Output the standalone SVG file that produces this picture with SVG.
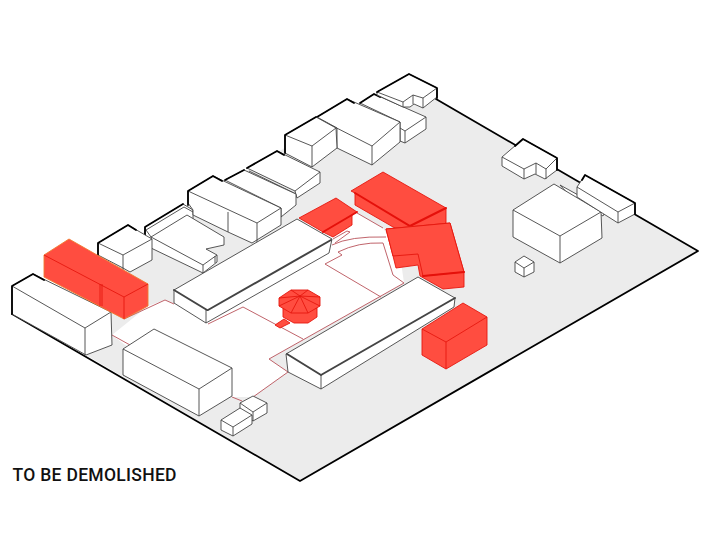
<svg xmlns="http://www.w3.org/2000/svg" width="711" height="539" viewBox="0 0 711 539">
<style>
.w{fill:#fff;stroke:#444;stroke-width:.9;stroke-linejoin:round}
.l{fill:none;stroke:#444;stroke-width:.9;stroke-linejoin:round}
.k{fill:none;stroke:#000;stroke-width:1.8;stroke-linejoin:round;stroke-linecap:round}
.d{fill:none;stroke:#444;stroke-width:2;stroke-linecap:round}
.r{fill:#ff4d40;stroke:#e5170f;stroke-width:.9;stroke-linejoin:round}
.rl{fill:none;stroke:#e5170f;stroke-width:.9;stroke-linejoin:round}
.rk{fill:none;stroke:#e5100a;stroke-width:2;stroke-linecap:round}
.p{fill:none;stroke:#b9525a;stroke-width:.9;stroke-linejoin:round}
text{font-family:"Roboto","Liberation Sans",sans-serif;font-weight:500;font-size:17.5px;fill:#111}
</style>
<g id="ground">
<polygon points="86,355 300,481 698,251 436,99 360,103 130,240 100,290" fill="#ececec"/>
<polygon points="112,335 148,306 165,300 174,304 300,225 357,213 383,228 400,255 404,283 269,359 288,372 253,397 232,397 125,345" fill="#fff"/>
<path class="k" d="M12,314 300,481 698,251 436,99"/>
</g>
<g id="connectors">
<path class="p" d="M124,319 165,300 174,304"/>
<path class="p" d="M112,335 130,345"/>
<path class="p" d="M208,324 243,307 303,339"/>
<path class="p" d="M288,372 269,359 404,283"/>
<path class="p" d="M288,372 253,397"/>
<path class="p" d="M232,397 242,401"/>
<path class="p" d="M381,297 325,264 342,255 338,252 Q358,242 383,243 L393,275 404,283"/>
<path class="p" d="M332,245 Q350,236 386,237"/>
<path class="p" d="M333,239 347,231 350,232 335,243"/>
<path class="p" d="M357,213 383,228"/>
</g>
<g id="bldg-b">
<polygon class="w" points="360,103 374,94 426,117 426,129 405,143 400,141 400,122"/>
<path class="l" d="M405,131 426,117M405,131V143M400,128 405,131"/>
<path class="k" d="M360,103 374,94 380,97"/>
</g>
<g id="bldg-top">
<polygon class="w" points="437,88 437,97 423,108 414,104 410,107 403,107 377,95 377,92 409,74"/>
<path class="l" d="M377,92 403,102 413,95 423,98 437,88M423,98V108M403,102V107M413,95V104"/>
<path class="k" d="M377,92 409,74 437,88 437,98"/>
</g>
<g id="bldg-c">
<polygon class="w" points="317,117 347,99 400,122 400,142 372,165 337,148 337,128"/>
<path class="l" d="M319,119 372,146 400,122M372,146V165"/>
<path class="k" d="M317,117 347,99 354,103"/>
</g>
<g id="bldg-d">
<polygon class="w" points="285,135 316,117 336,128 337,148 312,167 285,153"/>
<path class="l" d="M285,135 312,146 336,128M312,146V167"/>
<path class="k" d="M285,153 285,135 316,117"/>
</g>
<g id="bldg-e">
<polygon class="w" points="247,168 277,151 320,172 320,183 297,198 295,191"/>
<path class="l" d="M295,191 320,172M249,171 296,194"/>
<path class="k" d="M247,168 277,151 284,155"/>
</g>
<g id="bldg-f">
<polygon class="w" points="225,180 244,170 296,194 296,205 281,217 281,208"/>
<path class="k" d="M225,180 244,170"/>
</g>
<g id="bldg-h-back">
<polygon class="w" points="145,235 145,227 183,204 193,210 193,219 151,245"/>
<path class="l" d="M146,230 184,207 193,212M146,230 151,237"/>
<path class="k" d="M145,235 145,227 183,204"/>
</g>
<g id="bldg-g">
<polygon class="w" points="188,191 213,176 281,208 281,225 252,243 228,232 193,215 193,210 188,203"/>
<path class="l" d="M188,191 257,223 281,208M257,223V243M228,212V232"/>
<path class="k" d="M188,205 188,191 213,176 222,181"/>
</g>
<g id="bldg-h">
<polygon class="w" points="151,237 187,215 224,237 224,245 206,249 217,255 217,262 203,273 151,248"/>
<path class="l" d="M151,237 203,265 217,255M203,265V273M215,256V263"/>
</g>
<g id="bldg-i">
<polygon class="w" points="98,243 128,225 152,239 152,260 130,272 123,268 98,255"/>
<path class="l" d="M98,243 123,255 152,239M123,255V270"/>
<path class="k" d="M98,255 98,243 128,225 136,230"/>
</g>
<g id="bldg-left">
<polygon class="w" points="12,286 33,274 111,312 112,345 86,355 12,314"/>
<path class="l" d="M12,286 85,328 111,312M85,328V355"/>
<path class="k" d="M12,314 12,286 33,274 44,280"/>
</g>
<g id="red-long">
<polygon class="r" points="44,255 69,239 148,284 148,306 124,319 44,277" style="stroke:#f07a30"/>
<path class="rl" d="M44,255 124,297 148,284M124,297V319M100,284V306M102,284V306"/>
</g>
<g id="bldg-bottom">
<polygon class="w" points="123,349 154,329 232,368 232,396 199,416 123,375"/>
<path class="l" d="M123,349 199,389 232,368M199,389V416"/>
</g>
<g id="box1">
<polygon class="w" points="240,403 253,396 267,403 267,413 253,421 240,412"/>
<path class="l" d="M240,403 253,412 267,403M253,412V421"/>
</g>
<g id="box2">
<polygon class="w" points="221,420 240,408 252,415 252,424 233,436 221,430"/>
<path class="l" d="M221,420 233,427 252,415M233,427V436"/>
</g>
<g id="red-small">
<polygon class="r" points="299,218 336,198 357,212 352,215 352,225 333,237 323,232"/>
<path class="rk" d="M323,232 357,212"/>
</g>
<g id="long-1">
<polygon class="w" points="174,290 297,219 332,239 329,253 206,323 174,303"/>
<path class="l" d="M206,310V323"/>
<path class="d" d="M208,310 331,240M174,290 207,310"/>
</g>
<g id="red-big-1">
<polygon class="r" points="351,191 383,172 446,208 446,223 410,236 393,227 355,205 355,193"/>
<path class="rk" d="M355,193 410,226 446,208"/>
</g>
<g id="red-big-2">
<polygon class="r" points="393,256 396,268 418,265 420,276 443,289 464,287 464,272 450,223 386,229"/>
<polygon class="r" points="386,229 450,223 464,272 423,276 418,254 393,256"/>
<path class="rk" d="M423,276 464,272"/>
</g>
<g id="long-2">
<polygon class="w" points="286,354 418,277 455,298 454,307 321,389 288,372"/>
<path class="l" d="M321,375V389"/>
<path class="d" d="M321,375 455,298M287,354 321,375"/>
</g>
<g id="red-box">
<polygon class="r" points="422,329 463,303 487,317 487,345 446,369 422,355"/>
<path class="rl" d="M422,329 446,342 487,317M446,342V369"/>
</g>
<g id="red-kiosk">
<polygon class="r" points="275,325 284,319 290,323 280,328"/>
<polygon class="r" points="283,308 283,317 294,323 308,323 317,317 317,308"/>
<polygon class="r" points="279,298 291,290 308,290 320,297 320,306 308,313 291,313 279,306"/>
<path class="rl" d="M279,306 300,296 320,306M291,313 300,296 308,313M291,290 300,296 308,290M279,298 300,296 320,297"/>
</g>
<g id="bldg-big">
<polygon class="w" points="560,185 600,207 605,212 603,216 570,196"/>
<polygon class="w" points="513,210 554,184 601,212 602,238 560,263 513,237"/>
<path class="l" d="M513,210 560,236 601,212M560,236V263"/>
</g>
<g id="bldg-long-right">
<polygon class="w" points="577,187 585,175 635,203 635,214 618,223 577,197"/>
<path class="l" d="M577,187 618,212 635,203M618,212V223"/>
<path class="k" d="M582,180 585,175 635,203 635,214"/>
</g>
<g id="bldg-notch">
<polygon class="w" points="502,157 523,139 557,158 557,170 545,179 535,174 524,179 502,166"/>
<path class="l" d="M502,157 524,169 536,163 546,169 557,158M524,169V179M536,163V174M546,169V179"/>
<path class="k" d="M515,146 523,139 557,158 557,170"/>
</g>
<g id="cube">
<polygon class="w" points="515,262 524,256 534,262 534,272 524,277 515,272"/>
<path class="l" d="M515,262 524,268 534,262M524,268V277"/>
</g>
<text x="12.5" y="481" textLength="164">TO BE DEMOLISHED</text>
</svg>
